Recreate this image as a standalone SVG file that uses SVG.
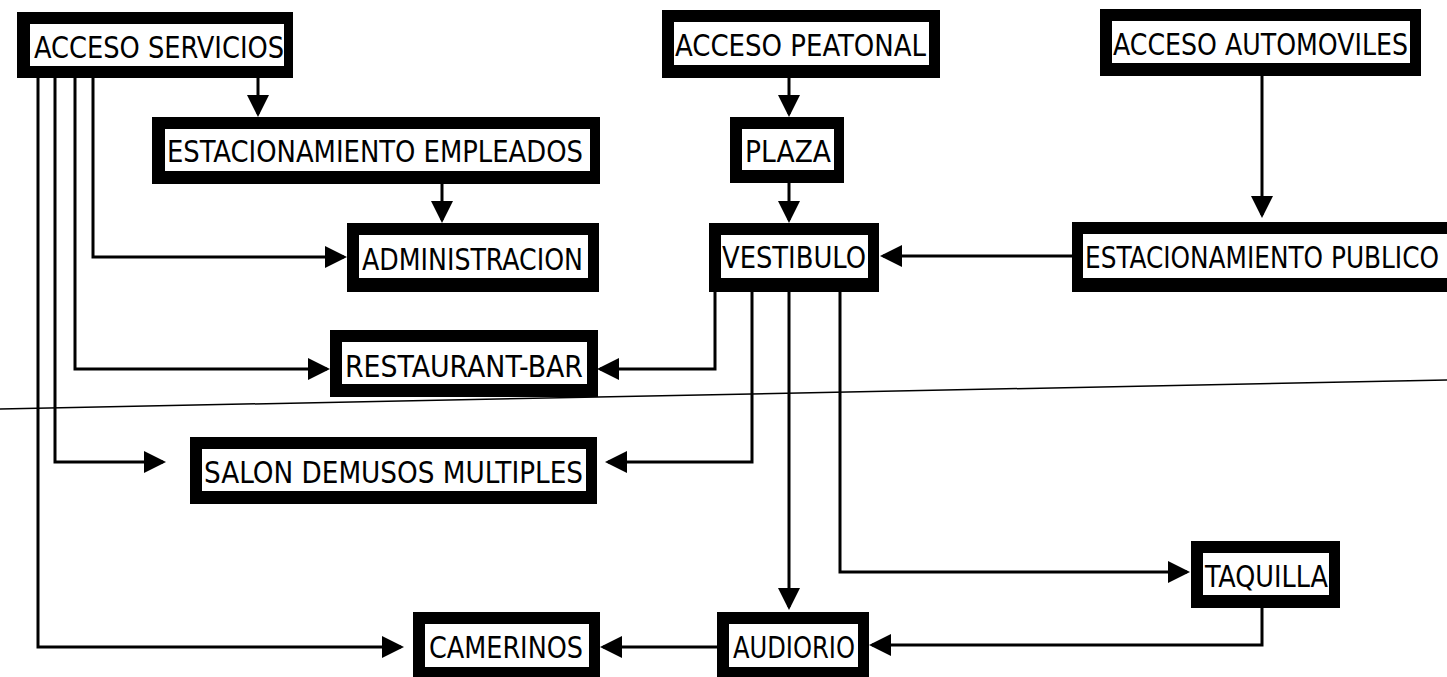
<svg xmlns="http://www.w3.org/2000/svg" width="1447" height="677" viewBox="0 0 1447 677">
<style>
.frame{fill:#000}
.inner{fill:#fff}
.lbl{font-family:"DejaVu Sans Condensed","Liberation Sans",sans-serif;font-size:31px;fill:#000}
.ln{fill:none;stroke:#000;stroke-width:3}
.scan{fill:none;stroke:#000;stroke-width:1.5}
</style>
<defs>
<marker id="ah" markerUnits="userSpaceOnUse" markerWidth="22" markerHeight="22" refX="19" refY="11" orient="auto">
<path d="M0,0 L22,11 L0,22 Z" fill="#000"/>
</marker>
</defs>
<rect width="1447" height="677" fill="#fff"/>

<g id="scan-line"><path class="scan" d="M0,409 L1447,380"/></g>

<g id="connectors">
<path class="ln" marker-end="url(#ah)" d="M258,78 V114"/>
<path class="ln" marker-end="url(#ah)" d="M442,184 V220"/>
<path class="ln" marker-end="url(#ah)" d="M93,78 V257 H344"/>
<path class="ln" marker-end="url(#ah)" d="M75,78 V369 H327"/>
<path class="ln" marker-end="url(#ah)" d="M55,78 V462 H163"/>
<path class="ln" marker-end="url(#ah)" d="M38,78 V647 H401"/>
<path class="ln" marker-end="url(#ah)" d="M789,78 V114"/>
<path class="ln" marker-end="url(#ah)" d="M789,183 V220"/>
<path class="ln" marker-end="url(#ah)" d="M1262,76 V215"/>
<path class="ln" marker-end="url(#ah)" d="M1072,256 H883"/>
<path class="ln" marker-end="url(#ah)" d="M715,292 V369 H600"/>
<path class="ln" marker-end="url(#ah)" d="M752,292 V462 H608"/>
<path class="ln" marker-end="url(#ah)" d="M789,292 V607"/>
<path class="ln" marker-end="url(#ah)" d="M840,292 V572 H1187"/>
<path class="ln" marker-end="url(#ah)" d="M1262,608 V645 H872"/>
<path class="ln" marker-end="url(#ah)" d="M717,647 H603"/>
</g>

<g id="n-acceso-servicios">
<rect class="frame" x="17" y="12" width="276" height="66"/>
<rect class="inner" x="30" y="24" width="254" height="42"/>
<text class="lbl" x="34" y="58" textLength="250" lengthAdjust="spacingAndGlyphs">ACCESO SERVICIOS</text>
</g>
<g id="n-estacionamiento-empleados">
<rect class="frame" x="152" y="117" width="448" height="67"/>
<rect class="inner" x="165" y="129" width="425" height="42"/>
<text class="lbl" x="167" y="162" textLength="416" lengthAdjust="spacingAndGlyphs">ESTACIONAMIENTO EMPLEADOS</text>
</g>
<g id="n-administracion">
<rect class="frame" x="347" y="223" width="252" height="69"/>
<rect class="inner" x="359" y="235" width="229" height="43"/>
<text class="lbl" x="362" y="270" textLength="221" lengthAdjust="spacingAndGlyphs">ADMINISTRACION</text>
</g>
<g id="n-restaurant-bar">
<rect class="frame" x="330" y="330" width="268" height="67"/>
<rect class="inner" x="342" y="342" width="245" height="42"/>
<text class="lbl" x="345" y="377" textLength="238" lengthAdjust="spacingAndGlyphs">RESTAURANT-BAR</text>
</g>
<g id="n-salon">
<rect class="frame" x="190" y="437" width="407" height="67"/>
<rect class="inner" x="202" y="449" width="384" height="42"/>
<text class="lbl" x="204" y="483" textLength="379" lengthAdjust="spacingAndGlyphs">SALON DEMUSOS MULTIPLES</text>
</g>
<g id="n-camerinos">
<rect class="frame" x="413" y="612" width="187" height="68"/>
<rect class="inner" x="425" y="624" width="164" height="43"/>
<text class="lbl" x="429" y="658" textLength="154" lengthAdjust="spacingAndGlyphs">CAMERINOS</text>
</g>
<g id="n-audiorio">
<rect class="frame" x="717" y="612" width="152" height="68"/>
<rect class="inner" x="729" y="624" width="129" height="43"/>
<text class="lbl" x="733" y="658" textLength="122" lengthAdjust="spacingAndGlyphs">AUDIORIO</text>
</g>
<g id="n-taquilla">
<rect class="frame" x="1191" y="541" width="149" height="67"/>
<rect class="inner" x="1203" y="553" width="126" height="42"/>
<text class="lbl" x="1205" y="587" textLength="123" lengthAdjust="spacingAndGlyphs">TAQUILLA</text>
</g>
<g id="n-acceso-peatonal">
<rect class="frame" x="662" y="10" width="278" height="68"/>
<rect class="inner" x="674" y="22" width="255" height="43"/>
<text class="lbl" x="675" y="56" textLength="251" lengthAdjust="spacingAndGlyphs">ACCESO PEATONAL</text>
</g>
<g id="n-plaza">
<rect class="frame" x="730" y="117" width="114" height="66"/>
<rect class="inner" x="742" y="129" width="92" height="41"/>
<text class="lbl" x="745" y="162" textLength="86" lengthAdjust="spacingAndGlyphs">PLAZA</text>
</g>
<g id="n-vestibulo">
<rect class="frame" x="709" y="223" width="170" height="69"/>
<rect class="inner" x="721" y="235" width="147" height="43"/>
<text class="lbl" x="722" y="268" textLength="144" lengthAdjust="spacingAndGlyphs">VESTIBULO</text>
</g>
<g id="n-acceso-automoviles">
<rect class="frame" x="1100" y="9" width="321" height="67"/>
<rect class="inner" x="1112" y="21" width="298" height="42"/>
<text class="lbl" x="1113" y="55" textLength="295" lengthAdjust="spacingAndGlyphs">ACCESO AUTOMOVILES</text>
</g>
<g id="n-estacionamiento-publico">
<rect class="frame" x="1072" y="222" width="375" height="70"/>
<rect class="inner" x="1083" y="234" width="364" height="44"/>
<text class="lbl" x="1085" y="268" textLength="354" lengthAdjust="spacingAndGlyphs">ESTACIONAMIENTO PUBLICO</text>
</g>
</svg>
